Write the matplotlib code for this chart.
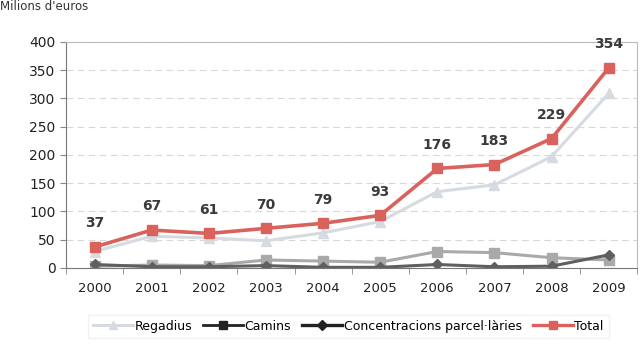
import matplotlib.pyplot as plt
from matplotlib.lines import Line2D
import numpy as np

years = ['2000', '2001', '2002', '2003', '2004', '2005', '2006', '2007', '2008', '2009']
regadius = [29, 56, 53, 48, 62, 82, 135, 147, 197, 309]
camins = [3, 5, 4, 14, 12, 10, 29, 27, 18, 14]
concentracions = [6, 2, 2, 4, 1, 1, 6, 2, 3, 23]
total = [37, 67, 61, 70, 79, 93, 176, 183, 229, 354]

c_reg = '#d5dbe0'
c_cam = '#a9a9a9'
c_con = '#5f5f5f'
c_tot = '#d9625d'

fig = plt.figure(figsize=(6.44, 3.47), dpi=100)
ax = fig.add_axes([0.1025, 0.228, 0.887, 0.651])
x = np.arange(len(years))

ax.plot(x, regadius, color=c_reg, lw=2.2, marker='^', ms=7)
ax.plot(x, camins, color=c_cam, lw=2.2, marker='s', ms=7)
ax.plot(x, concentracions, color=c_con, lw=2.2, marker='D', ms=5.5)
ax.plot(x, total, color=c_tot, lw=2.6, marker='s', ms=7)

for xi, v in zip(x, total):
    ax.annotate(str(v), (xi, v), xytext=(0, 12), textcoords='offset points',
                ha='center', va='bottom', fontsize=10, fontweight='bold', color='#3a3a3a')

ax.set_ylim(0, 400)
ax.set_yticks(range(0, 401, 50))
ax.set_xlim(-0.5, 9.5)
ax.set_xticks(x)
ax.set_xticklabels(years)
ax.set_xticks(np.arange(-0.5, 10, 1), minor=True)
ax.tick_params(axis='x', which='major', length=0, pad=10, labelsize=9.5, colors='#222222')
ax.tick_params(axis='x', which='minor', length=4, color='#888888')
ax.tick_params(axis='y', length=4, color='#888888', labelsize=10, labelcolor='#222222')
ax.grid(axis='y', ls=(0, (6, 4)), color='#d8d8d8', lw=0.8)
ax.set_axisbelow(True)
for s in ax.spines.values():
    s.set_color('#bbbbbb')
ax.spines['left'].set_color('#777777')
ax.spines['bottom'].set_color('#777777')

handles = [
    Line2D([], [], color=c_reg, lw=2.2, marker='^', ms=6),
    Line2D([], [], color='#222222', lw=2, marker='s', ms=6),
    Line2D([], [], color='#222222', lw=2.4, marker='D', ms=5),
    Line2D([], [], color=c_tot, lw=2.4, marker='s', ms=6),
]
labels = ['Regadius', 'Camins', 'Concentracions parcel·làries', 'Total']
fig.legend(handles, labels, loc='center', bbox_to_anchor=(0.541, 0.06), ncol=4,
           fontsize=9, frameon=True, edgecolor='#eeeeee', fancybox=False,
           handlelength=3.2, handletextpad=0.1, columnspacing=0.9)

fig.text(0.0, 0.999, "Milions d'euros", fontsize=8.5, va='top', ha='left', color='#333333')

fig.savefig('out.png', dpi=100)
